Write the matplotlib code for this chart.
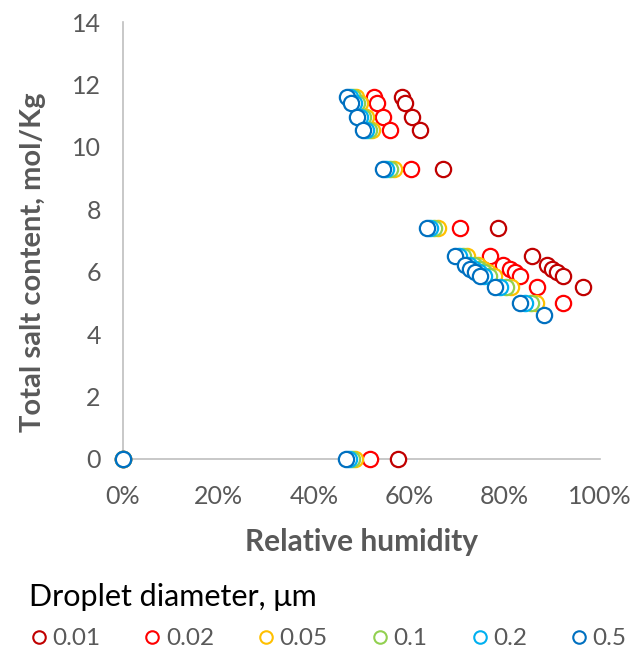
import matplotlib
matplotlib.use('Agg')
import matplotlib.pyplot as plt
from matplotlib.lines import Line2D
from matplotlib.ticker import PercentFormatter, MultipleLocator

plt.rcParams['font.family'] = ['Lato', 'DejaVu Sans']

# salt content levels (mol/Kg), shared by all series; each series uses the first n
sal = [11.6, 11.4, 10.95, 10.55, 9.3, 7.4, 6.5, 6.2, 6.1, 6.0, 5.85, 5.5, 5.0, 4.6]

# relative humidity (%) for each droplet diameter, in the order of sal
hr_001 = [58.5, 59.1, 60.6, 62.3, 67.1, 78.6, 85.7, 88.9, 89.9, 91.0, 92.2, 96.4]
hr_002 = [52.6, 53.2, 54.5, 56.0, 60.4, 70.6, 76.9, 79.6, 81.1, 82.2, 83.2, 86.8, 92.2]
hr_005 = [48.8, 49.7, 50.9, 52.2, 56.8, 66.0, 72.1, 74.4, 75.5, 76.5, 77.8, 81.3, 86.6]
hr_01 = [48.2, 49.0, 50.3, 51.6, 56.0, 65.2, 71.3, 73.6, 74.6, 75.7, 76.7, 80.3, 85.5]
hr_02 = [47.6, 48.4, 49.7, 50.9, 55.1, 64.4, 70.4, 72.5, 73.6, 74.6, 75.7, 79.0, 84.3]
hr_05 = [47.0, 47.8, 49.1, 50.3, 54.5, 63.7, 69.6, 71.7, 72.7, 73.8, 74.8, 78.0, 83.2, 88.2]

# points on the zero line: origin and the zero-salt point
hr_cero = [57.7, 51.8, 48.6, 48.0, 47.4, 46.7]

etiquetas = ['0.01', '0.02', '0.05', '0.1', '0.2', '0.5']
colores = ['#C00000', '#FF0000', '#FFC000', '#92D050', '#00B0F0', '#0070C0']
series = [hr_001, hr_002, hr_005, hr_01, hr_02, hr_05]

gris = '#595959'

fig = plt.figure(figsize=(6.44, 6.53), dpi=100)
ax = fig.add_axes([123/644, 1 - 459/653, 477/644, 437/653])

for hr, c, z in zip(series, colores, hr_cero):
    xs = [0.0] + [z] + hr
    ys = [0.0] + [0.0] + sal[:len(hr)]
    ax.plot(xs, ys, linestyle='none', marker='o', ms=11, mew=1.6,
            mec=c, mfc='white', clip_on=False)

ax.set_xlim(0, 100)
ax.set_ylim(0, 14)
ax.xaxis.set_major_locator(MultipleLocator(20))
ax.xaxis.set_major_formatter(PercentFormatter(xmax=100, decimals=0))
ax.yaxis.set_major_locator(MultipleLocator(2))

for lado in ['top', 'right']:
    ax.spines[lado].set_visible(False)
for lado in ['left', 'bottom']:
    ax.spines[lado].set_color('#BFBFBF')
    ax.spines[lado].set_linewidth(1.2)
    ax.spines[lado].set_zorder(0)

ax.tick_params(axis='x', length=0, pad=19, labelsize=18, labelcolor=gris)
ax.tick_params(axis='y', length=0, pad=16, labelsize=18, labelcolor=gris)

ax.set_xlabel('Relative humidity', fontsize=21.5, fontweight='bold', color=gris)
ax.set_ylabel('Total salt content, mol/Kg', fontsize=21, fontweight='bold', color=gris)
ax.xaxis.set_label_coords(0.5, -0.158)
ax.yaxis.set_label_coords(-0.161, 0.451)

manejadores = [Line2D([], [], linestyle='none', marker='o', ms=9, mew=1.5,
                      mec=c, mfc='white') for c in colores]
ley = fig.legend(manejadores, etiquetas, title='Droplet diameter, μm',
                 ncol=6, loc='upper left', bbox_to_anchor=(0.045, 0.107),
                 frameon=False, alignment='left', handlelength=0.8,
                 handletextpad=0.15, columnspacing=1.75, labelspacing=0.7,
                 borderpad=0, borderaxespad=0, fontsize=17.5,
                 title_fontsize=22, labelcolor=gris)

fig.savefig('out.png', dpi=100)
